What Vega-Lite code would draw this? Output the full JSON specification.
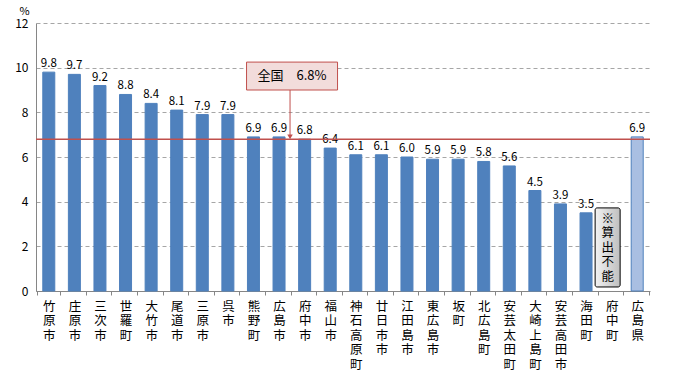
{
  "$schema": "https://vega.github.io/schema/vega-lite/v6.json",
  "width": 614,
  "height": 268,
  "autosize": "none",
  "padding": {"left": 36, "top": 23, "right": 27, "bottom": 80},
  "background": "white",
  "config": {"font": "Noto Sans CJK JP", "view": {"stroke": null}},
  "datasets": {
    "bars": [
      {"name": "竹原市", "value": 9.8, "kind": "city"},
      {"name": "庄原市", "value": 9.7, "kind": "city"},
      {"name": "三次市", "value": 9.2, "kind": "city"},
      {"name": "世羅町", "value": 8.8, "kind": "city"},
      {"name": "大竹市", "value": 8.4, "kind": "city"},
      {"name": "尾道市", "value": 8.1, "kind": "city"},
      {"name": "三原市", "value": 7.9, "kind": "city"},
      {"name": "呉市", "value": 7.9, "kind": "city"},
      {"name": "熊野町", "value": 6.9, "kind": "city"},
      {"name": "広島市", "value": 6.9, "kind": "city"},
      {"name": "府中市", "value": 6.8, "kind": "city"},
      {"name": "福山市", "value": 6.4, "kind": "city"},
      {"name": "神石高原町", "value": 6.1, "kind": "city"},
      {"name": "廿日市市", "value": 6.1, "kind": "city"},
      {"name": "江田島市", "value": 6.0, "kind": "city"},
      {"name": "東広島市", "value": 5.9, "kind": "city"},
      {"name": "坂町", "value": 5.9, "kind": "city"},
      {"name": "北広島町", "value": 5.8, "kind": "city"},
      {"name": "安芸太田町", "value": 5.6, "kind": "city"},
      {"name": "大崎上島町", "value": 4.5, "kind": "city"},
      {"name": "安芸高田市", "value": 3.9, "kind": "city"},
      {"name": "海田町", "value": 3.5, "kind": "city"},
      {"name": "広島県", "value": 6.9, "kind": "pref"}
    ],
    "national": [{"ref": 6.8}],
    "note": [{"name": "府中町", "lo": 0.18, "hi": 3.72, "top": 3.5, "text": ["※", "算", "出", "不", "能"]}],
    "callout": [{"name": "広島市", "lo": 9.0, "hi": 10.25, "mid": 9.62, "label": "全国　6.8%", "tip": 6.9}]
  },
  "layer": [
    {
      "data": {"name": "bars"},
      "mark": {"type": "bar", "size": 12, "stroke": "#4f81bd", "strokeWidth": 1},
      "encoding": {
        "x": {
          "field": "name", "type": "nominal",
          "scale": {"domain": ["竹原市","庄原市","三次市","世羅町","大竹市","尾道市","三原市","呉市","熊野町","広島市","府中市","福山市","神石高原町","廿日市市","江田島市","東広島市","坂町","北広島町","安芸太田町","大崎上島町","安芸高田市","海田町","府中町","広島県"]},
          "axis": {
            "title": null, "labelAngle": 0, "labelExpr": "split(datum.label, '')",
            "labelBaseline": "top", "labelLineHeight": 14.5, "labelFontSize": 12.5, "labelColor": "#000",
            "tickBand": "extent", "tickSize": 4, "tickColor": "#868686", "domainColor": "#868686",
            "labelPadding": 5, "grid": false
          }
        },
        "y": {
          "field": "value", "type": "quantitative",
          "scale": {"domain": [0, 12]},
          "axis": {
            "values": [0, 2, 4, 6, 8, 10, 12], "title": "%", "titleAngle": 0, "titleFontWeight": "normal",
            "titleFontSize": 11, "titleX": -12, "titleY": -7, "titleAlign": "center",
            "grid": true, "gridDash": [4, 3], "gridColor": "#a6a6a6", "domainColor": "#868686",
            "ticks": false, "labelPadding": 8, "labelFontSize": 12, "labelColor": "#000"
          }
        },
        "fill": {"field": "kind", "type": "nominal", "scale": {"domain": ["city", "pref"], "range": ["#4f81bd", "#a9bfe2"]}, "legend": null}
      }
    },
    {
      "data": {"name": "bars"},
      "mark": {"type": "text", "dy": -8, "fontSize": 11.5, "color": "#000"},
      "encoding": {
        "x": {"field": "name", "type": "nominal"},
        "y": {"field": "value", "type": "quantitative"},
        "text": {"field": "value", "type": "quantitative", "format": ".1f"}
      }
    },
    {
      "data": {"name": "national"},
      "mark": {"type": "rule", "color": "#c0504d", "strokeWidth": 1.5},
      "encoding": {"y": {"field": "ref", "type": "quantitative"}}
    },
    {
      "data": {"name": "note"},
      "mark": {
        "type": "bar", "size": 25, "stroke": "#000", "strokeWidth": 1, "cornerRadius": 2, "xOffset": -4,
        "fill": {"gradient": "linear", "x1": 0, "y1": 0, "x2": 1, "y2": 0, "stops": [{"offset": 0, "color": "#f2f2f2"}, {"offset": 1, "color": "#bfbfbf"}]}
      },
      "encoding": {
        "x": {"field": "name", "type": "nominal"},
        "y": {"field": "lo", "type": "quantitative"},
        "y2": {"field": "hi"}
      }
    },
    {
      "data": {"name": "note"},
      "mark": {"type": "text", "fontSize": 12.5, "lineHeight": 14.5, "baseline": "top", "color": "#000", "xOffset": -4},
      "encoding": {
        "x": {"field": "name", "type": "nominal"},
        "y": {"field": "top", "type": "quantitative"},
        "text": {"field": "text"}
      }
    },
    {
      "data": {"name": "callout"},
      "mark": {"type": "rule", "color": "#c0504d", "strokeWidth": 1, "xOffset": 11},
      "encoding": {
        "x": {"field": "name", "type": "nominal"},
        "y": {"field": "lo", "type": "quantitative"},
        "y2": {"field": "tip"}
      }
    },
    {
      "data": {"name": "callout"},
      "mark": {"type": "point", "shape": "triangle-down", "size": 30, "filled": true, "color": "#c0504d", "opacity": 1, "xOffset": 11},
      "encoding": {
        "x": {"field": "name", "type": "nominal"},
        "y": {"field": "tip", "type": "quantitative"}
      }
    },
    {
      "data": {"name": "callout"},
      "mark": {"type": "bar", "size": 91, "fill": "#f2dcdb", "stroke": "#c0504d", "strokeWidth": 1, "xOffset": 13},
      "encoding": {
        "x": {"field": "name", "type": "nominal"},
        "y": {"field": "lo", "type": "quantitative"},
        "y2": {"field": "hi"}
      }
    },
    {
      "data": {"name": "callout"},
      "mark": {"type": "text", "fontSize": 13, "baseline": "middle", "color": "#000", "xOffset": 13},
      "encoding": {
        "x": {"field": "name", "type": "nominal"},
        "y": {"field": "mid", "type": "quantitative"},
        "text": {"field": "label"}
      }
    }
  ]
}
